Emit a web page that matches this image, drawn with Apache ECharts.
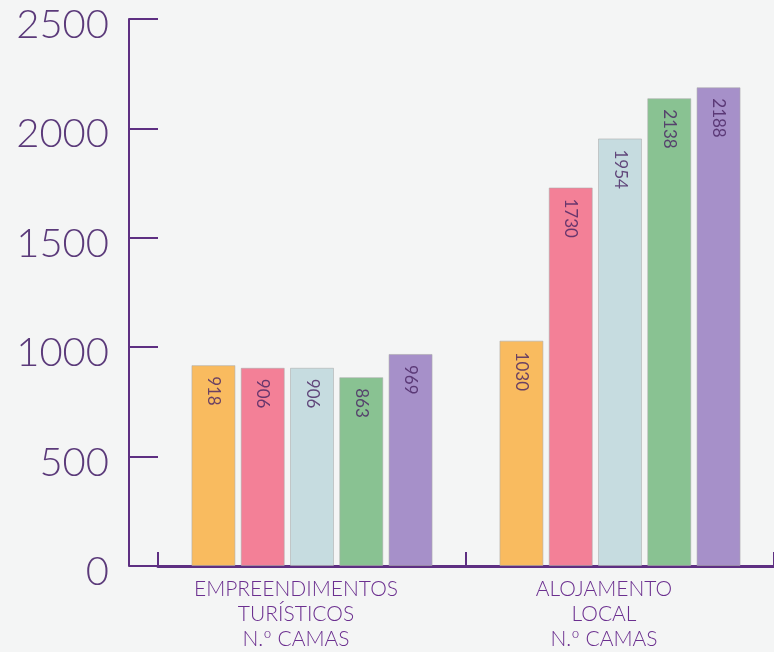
<!DOCTYPE html>
<html>
<head>
<meta charset="utf-8">
<script src="https://cdn.jsdelivr.net/npm/echarts@6/dist/echarts.min.js"></script>
<style>
html,body{margin:0;padding:0;background:#F4F5F5;}
#c{width:774px;height:652px;}
</style>
</head>
<body>
<div id="c"></div>
<script>
const categories = ['EMPREENDIMENTOS\nTURÍSTICOS\nN.º CAMAS', 'ALOJAMENTO\nLOCAL\nN.º CAMAS'];
const seriesA = [918, 1030];
const seriesB = [906, 1730];
const seriesC = [906, 1954];
const seriesD = [863, 2138];
const seriesE = [969, 2188];
const yTicks = [0, 500, 1000, 1500, 2000, 2500];

const colors = ['#F9BB5F', '#F38097', '#C6DCE0', '#89C292', '#A690C9'];
const dataSets = [seriesA, seriesB, seriesC, seriesD, seriesE];

const chart = echarts.init(document.getElementById('c'));
const axisColor = '#5E2F82';
chart.setOption({
  backgroundColor: '#F4F5F5',
  animation: false,
  grid: { left: 158, right: 0, top: 19, bottom: 83 },
  xAxis: {
    type: 'category',
    data: categories,
    axisLine: { lineStyle: { color: axisColor, width: 3 } },
    axisTick: { show: true, inside: true, length: 14, lineStyle: { color: axisColor, width: 2 } },
    axisLabel: { color: '#6B2F8F', fontSize: 21, fontWeight: 300, lineHeight: 25, margin: 11, fontFamily: 'Lato', padding: [0, 32, 0, 0] }
  },
  yAxis: {
    type: 'value',
    min: yTicks[0],
    max: yTicks[yTicks.length - 1],
    interval: 500,
    offset: 29,
    splitLine: { show: false },
    axisLine: { show: true, lineStyle: { color: axisColor, width: 2 } },
    axisTick: { show: true, inside: true, length: 29, lineStyle: { color: axisColor, width: 2 } },
    axisLabel: {
      color: '#5B3A7A', fontSize: 40, fontWeight: 300, margin: 20, fontFamily: 'Lato',
      verticalAlign: 'top', lineHeight: 12,
      formatter: v => String(v)
    }
  },
  series: dataSets.map((d, i) => ({
    type: 'bar',
    data: d,
    barWidth: 44,
    barGap: '12%',
    itemStyle: { color: colors[i], borderColor: 'rgba(170,170,170,0.55)', borderWidth: 1 },
    label: {
      show: true,
      position: 'insideTop',
      distance: 11,
      rotate: -90,
      align: 'left',
      verticalAlign: 'middle',
      fontSize: 17,
      fontFamily: 'Lato',
      color: 'rgba(75,38,100,0.82)'
    }
  }))
});
</script>
</body>
</html>
